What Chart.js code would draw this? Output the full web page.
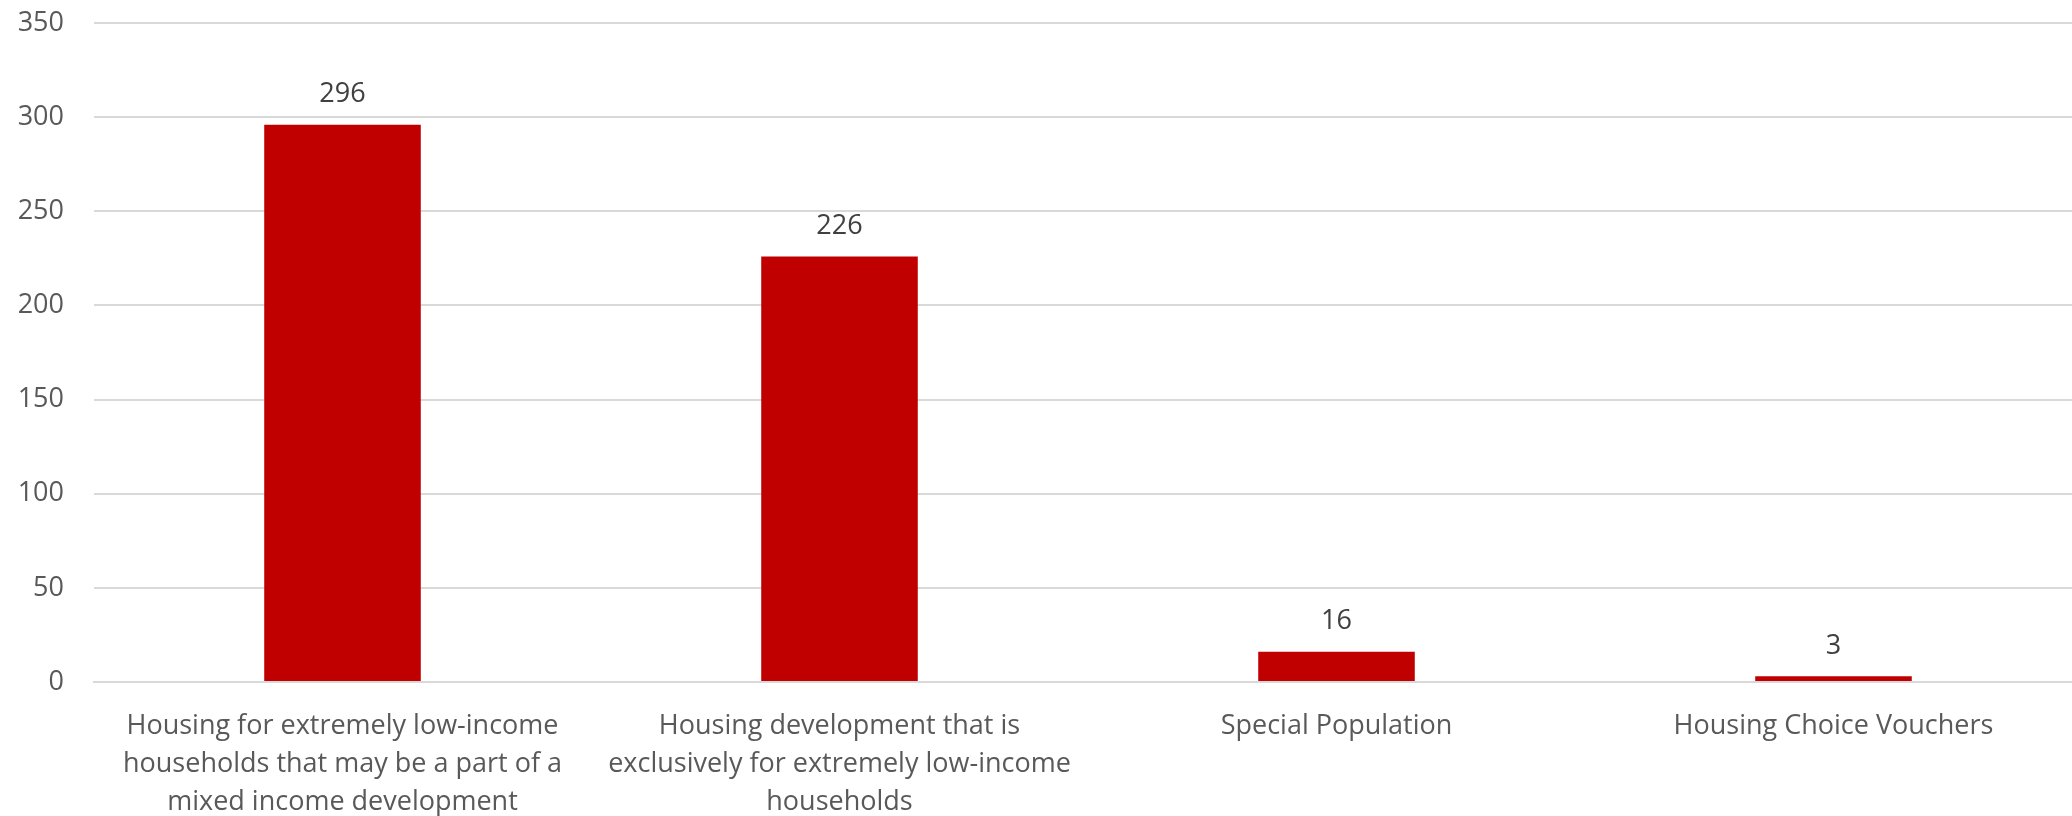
<!DOCTYPE html>
<html lang="en">
<head>
    <meta charset="UTF-8">
    <title>Housing units by type</title>
    <script src="https://cdn.jsdelivr.net/npm/chart.js"></script>
    <style>
        html, body {
            margin: 0;
            padding: 0;
            background: #ffffff;
            overflow: hidden;
        }

        /* a little wider than the window so the last gridlines run off the edge */
        .chart-box {
            position: relative;
            width: 2082px;
            height: 816px;
        }
    </style>
</head>
<body>
    <div class="chart-box">
        <canvas id="unitsChart"></canvas>
    </div>

    <script>
        // categories (already split into the lines they wrap to)
        const categories = [
            ['Housing for extremely low-income', 'households that may be a part of a', 'mixed income development'],
            ['Housing development that is', 'exclusively for extremely low-income', 'households'],
            'Special Population',
            'Housing Choice Vouchers'
        ];
        const unitCounts = [296, 226, 16, 3];
        const yTicks = [0, 50, 100, 150, 200, 250, 300, 350];

        const FONT = "'Open Sans', 'Liberation Sans', sans-serif";

        // writes each bar's value just above it
        const valueLabels = {
            id: 'valueLabels',
            afterDatasetsDraw(chart) {
                const ctx = chart.ctx;
                const meta = chart.getDatasetMeta(0);
                ctx.save();
                ctx.font = '27px ' + FONT;
                ctx.fillStyle = '#404040';
                ctx.textAlign = 'center';
                ctx.textBaseline = 'bottom';
                meta.data.forEach((bar, i) => {
                    ctx.fillText(String(unitCounts[i]), bar.x, bar.y - 17);
                });
                ctx.restore();
            }
        };

        const ctx = document.getElementById('unitsChart').getContext('2d');
        new Chart(ctx, {
            type: 'bar',
            data: {
                labels: categories,
                datasets: [{
                    data: unitCounts,
                    backgroundColor: '#c00000',
                    borderWidth: 0,
                    categoryPercentage: 1,
                    barPercentage: 0.315
                }]
            },
            options: {
                responsive: true,
                maintainAspectRatio: false,
                animation: false,
                layout: {
                    padding: { top: 23, right: 0, bottom: 0, left: 0 }
                },
                plugins: {
                    legend: { display: false },
                    tooltip: { enabled: false }
                },
                scales: {
                    x: {
                        grid: { display: false, drawTicks: false },
                        border: { display: true, color: '#d9d9d9', width: 2 },
                        ticks: {
                            color: '#595959',
                            padding: 25,
                            maxRotation: 0,
                            autoSkip: false,
                            font: { family: FONT, size: 27, lineHeight: '38px' }
                        },
                        afterFit(scale) {
                            scale.height = 134;
                            scale.paddingLeft = 0;
                            scale.paddingRight = 0;
                        }
                    },
                    y: {
                        min: 0,
                        max: 350,
                        afterBuildTicks(scale) {
                            scale.ticks = yTicks.map(v => ({ value: v }));
                        },
                        grid: { color: '#d9d9d9', lineWidth: 2, drawTicks: false },
                        border: { display: false },
                        ticks: {
                            color: '#595959',
                            padding: 30,
                            font: { family: FONT, size: 27 }
                        },
                        afterFit(scale) {
                            scale.width = 94;
                            scale.paddingTop = 0;
                            scale.paddingBottom = 0;
                        }
                    }
                }
            },
            plugins: [valueLabels]
        });
    </script>
</body>
</html>
